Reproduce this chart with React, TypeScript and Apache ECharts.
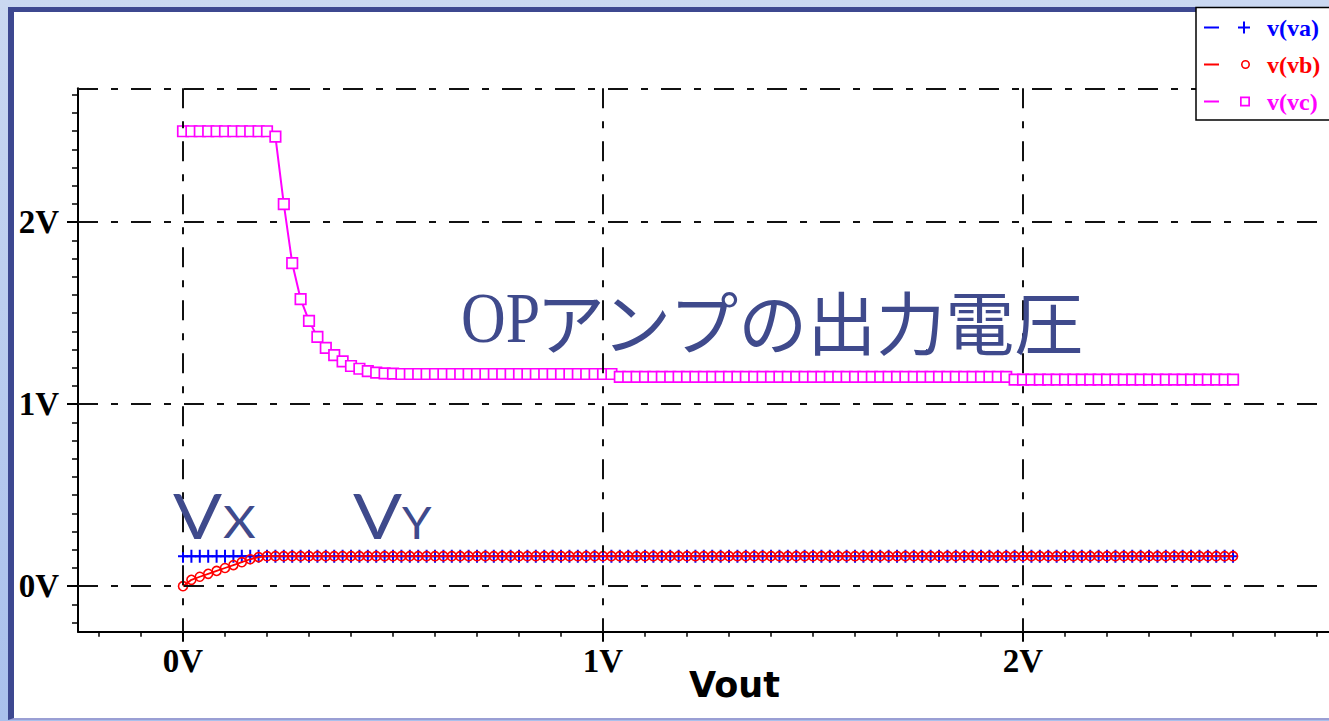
import React, { useEffect, useRef } from "react";
import * as echarts from "echarts";

// Sweep values of Vout (V)
const vout = [
  0, 0.02, 0.04, 0.06, 0.08, 0.1, 0.12, 0.14, 0.16, 0.18,
  0.2, 0.22, 0.24, 0.26, 0.28, 0.3, 0.32, 0.34, 0.36, 0.38,
  0.4, 0.42, 0.44, 0.46, 0.48, 0.5, 0.52, 0.54, 0.56, 0.58,
  0.6, 0.62, 0.64, 0.66, 0.68, 0.7, 0.72, 0.74, 0.76, 0.78,
  0.8, 0.82, 0.84, 0.86, 0.88, 0.9, 0.92, 0.94, 0.96, 0.98,
  1.0, 1.02, 1.04, 1.06, 1.08, 1.1, 1.12, 1.14, 1.16, 1.18,
  1.2, 1.22, 1.24, 1.26, 1.28, 1.3, 1.32, 1.34, 1.36, 1.38,
  1.4, 1.42, 1.44, 1.46, 1.48, 1.5, 1.52, 1.54, 1.56, 1.58,
  1.6, 1.62, 1.64, 1.66, 1.68, 1.7, 1.72, 1.74, 1.76, 1.78,
  1.8, 1.82, 1.84, 1.86, 1.88, 1.9, 1.92, 1.94, 1.96, 1.98,
  2.0, 2.02, 2.04, 2.06, 2.08, 2.1, 2.12, 2.14, 2.16, 2.18,
  2.2, 2.22, 2.24, 2.26, 2.28, 2.3, 2.32, 2.34, 2.36, 2.38,
  2.4, 2.42, 2.44, 2.46, 2.48, 2.5,
];

// v(va)
const va = [
  0.165, 0.165, 0.165, 0.165, 0.165, 0.165, 0.165, 0.165, 0.165, 0.165,
  0.165, 0.165, 0.165, 0.165, 0.165, 0.165, 0.165, 0.165, 0.165, 0.165,
  0.165, 0.165, 0.165, 0.165, 0.165, 0.165, 0.165, 0.165, 0.165, 0.165,
  0.165, 0.165, 0.165, 0.165, 0.165, 0.165, 0.165, 0.165, 0.165, 0.165,
  0.165, 0.165, 0.165, 0.165, 0.165, 0.165, 0.165, 0.165, 0.165, 0.165,
  0.165, 0.165, 0.165, 0.165, 0.165, 0.165, 0.165, 0.165, 0.165, 0.165,
  0.165, 0.165, 0.165, 0.165, 0.165, 0.165, 0.165, 0.165, 0.165, 0.165,
  0.165, 0.165, 0.165, 0.165, 0.165, 0.165, 0.165, 0.165, 0.165, 0.165,
  0.165, 0.165, 0.165, 0.165, 0.165, 0.165, 0.165, 0.165, 0.165, 0.165,
  0.165, 0.165, 0.165, 0.165, 0.165, 0.165, 0.165, 0.165, 0.165, 0.165,
  0.165, 0.165, 0.165, 0.165, 0.165, 0.165, 0.165, 0.165, 0.165, 0.165,
  0.165, 0.165, 0.165, 0.165, 0.165, 0.165, 0.165, 0.165, 0.165, 0.165,
  0.165, 0.165, 0.165, 0.165, 0.165, 0.165,
];

// v(vb)
const vb = [
  0, 0.035, 0.052, 0.068, 0.084, 0.1, 0.116, 0.132, 0.148, 0.16,
  0.165, 0.165, 0.165, 0.165, 0.165, 0.165, 0.165, 0.165, 0.165, 0.165,
  0.165, 0.165, 0.165, 0.165, 0.165, 0.165, 0.165, 0.165, 0.165, 0.165,
  0.165, 0.165, 0.165, 0.165, 0.165, 0.165, 0.165, 0.165, 0.165, 0.165,
  0.165, 0.165, 0.165, 0.165, 0.165, 0.165, 0.165, 0.165, 0.165, 0.165,
  0.165, 0.165, 0.165, 0.165, 0.165, 0.165, 0.165, 0.165, 0.165, 0.165,
  0.165, 0.165, 0.165, 0.165, 0.165, 0.165, 0.165, 0.165, 0.165, 0.165,
  0.165, 0.165, 0.165, 0.165, 0.165, 0.165, 0.165, 0.165, 0.165, 0.165,
  0.165, 0.165, 0.165, 0.165, 0.165, 0.165, 0.165, 0.165, 0.165, 0.165,
  0.165, 0.165, 0.165, 0.165, 0.165, 0.165, 0.165, 0.165, 0.165, 0.165,
  0.165, 0.165, 0.165, 0.165, 0.165, 0.165, 0.165, 0.165, 0.165, 0.165,
  0.165, 0.165, 0.165, 0.165, 0.165, 0.165, 0.165, 0.165, 0.165, 0.165,
  0.165, 0.165, 0.165, 0.165, 0.165, 0.165,
];

// v(vc)
const vc = [
  2.5, 2.5, 2.5, 2.5, 2.5, 2.5, 2.5, 2.5, 2.5, 2.5,
  2.5, 2.47, 2.1, 1.775, 1.578, 1.458, 1.37, 1.31, 1.27, 1.235,
  1.21, 1.195, 1.182, 1.174, 1.17, 1.168, 1.166, 1.166, 1.166, 1.166,
  1.166, 1.166, 1.166, 1.166, 1.166, 1.166, 1.166, 1.166, 1.166, 1.166,
  1.166, 1.166, 1.166, 1.166, 1.166, 1.166, 1.166, 1.166, 1.166, 1.166,
  1.166, 1.166, 1.15, 1.15, 1.15, 1.15, 1.15, 1.15, 1.15, 1.15,
  1.15, 1.15, 1.15, 1.15, 1.15, 1.15, 1.15, 1.15, 1.15, 1.15,
  1.15, 1.15, 1.15, 1.15, 1.15, 1.15, 1.15, 1.15, 1.15, 1.15,
  1.15, 1.15, 1.15, 1.15, 1.15, 1.15, 1.15, 1.15, 1.15, 1.15,
  1.15, 1.15, 1.15, 1.15, 1.15, 1.15, 1.15, 1.15, 1.15, 1.135,
  1.135, 1.135, 1.135, 1.135, 1.135, 1.135, 1.135, 1.135, 1.135, 1.135,
  1.135, 1.135, 1.135, 1.135, 1.135, 1.135, 1.135, 1.135, 1.135, 1.135,
  1.135, 1.135, 1.135, 1.135, 1.135, 1.135,
];

// Axis ticks / labels
const majorTicks = [0, 1, 2];
const minorTicks = [
  -0.2, -0.1, 0.1, 0.2, 0.3, 0.4, 0.5, 0.6, 0.7, 0.8, 0.9,
  1.1, 1.2, 1.3, 1.4, 1.5, 1.6, 1.7, 1.8, 1.9,
  2.1, 2.2, 2.3, 2.4, 2.5, 2.6, 2.7,
];
const gridLinesX = [0, 1, 2];
const gridLinesY = [0, 1, 2];

const X_MIN = -0.25;
const X_MAX = 2.728;
const Y_MIN = -0.25;
const Y_MAX = 2.736;

const seriesNames = ["v(va)", "v(vb)", "v(vc)"];
const seriesColors = ["#0000ff", "#ff0000", "#ff00ff"];

const TEXT_BLUE = "#3f4a8c";

const PLUS_SYMBOL = "path://M4,0H6V5.5H10V7.5H6V13H4V7.5H0V5.5H4Z";
const LEGEND_ICONS = [
  "path://M1,5H16V7H1Z M40,0H42V5H47V7H42V12H40V7H35V5H40Z M0,6H0.01V6.01H0Z",
  "path://M1,5H16V7H1Z M38,6A4.5,4.5 0 1 1 47,6A4.5,4.5 0 1 1 38,6Z M39.6,6A2.9,2.9 0 1 0 45.4,6A2.9,2.9 0 1 0 39.6,6Z M0,6H0.01V6.01H0Z",
  "path://M1,5H16V7H1Z M37,1H47V11H37Z M38.7,2.7V9.3H45.3V2.7Z M0,6H0.01V6.01H0Z",
];

export default function App() {
  const ref = useRef<HTMLDivElement | null>(null);

  useEffect(() => {
    if (!ref.current) return;
    const chart = echarts.init(ref.current, undefined, { renderer: "svg" });

    const axisFont = {
      color: "#000",
      fontFamily: "Liberation Serif",
      fontWeight: "bold" as const,
      fontSize: 33,
    };

    const option: any = {
      animation: false,
      backgroundColor: "transparent",
      grid: { left: 78, top: 88.3, width: 1250.8, height: 543.4, containLabel: false },
      xAxis: [
        {
          type: "value",
          min: X_MIN,
          max: X_MAX,
          position: "bottom",
          axisLine: { show: true, onZero: false, lineStyle: { color: "#000", width: 2 } },
          axisTick: { show: true, customValues: majorTicks, length: 10, lineStyle: { color: "#000", width: 2 } },
          axisLabel: { show: true, customValues: majorTicks, formatter: (v: number) => `${v}V`, margin: 13, ...axisFont },
          splitLine: { show: false },
        },
        {
          type: "value",
          min: X_MIN,
          max: X_MAX,
          position: "bottom",
          axisLine: { show: false, onZero: false },
          axisTick: { show: true, customValues: minorTicks, length: 5, lineStyle: { color: "#000", width: 1.5 } },
          axisLabel: { show: false },
          splitLine: { show: false },
        },
      ],
      yAxis: [
        {
          type: "value",
          min: Y_MIN,
          max: Y_MAX,
          position: "left",
          axisLine: { show: true, onZero: false, lineStyle: { color: "#000", width: 2 } },
          axisTick: { show: true, customValues: majorTicks, length: 11, lineStyle: { color: "#000", width: 2 } },
          axisLabel: { show: true, customValues: majorTicks, formatter: (v: number) => `${v}V`, margin: 19, ...axisFont },
          splitLine: { show: false },
        },
        {
          type: "value",
          min: Y_MIN,
          max: Y_MAX,
          position: "left",
          axisLine: { show: false, onZero: false },
          axisTick: { show: true, customValues: minorTicks, length: 6, lineStyle: { color: "#000", width: 1.5 } },
          axisLabel: { show: false },
          splitLine: { show: false },
        },
      ],
      legend: {
        show: true,
        orient: "vertical",
        left: 1196,
        top: 7.5,
        padding: [8, 80, 6.5, 7],
        itemGap: 13,
        itemWidth: 47,
        itemHeight: 13,
        backgroundColor: "#ffffff",
        borderColor: "#000000",
        borderWidth: 1.5,
        symbolKeepAspect: true,
        selectedMode: false,
        textStyle: {
          fontFamily: "Liberation Serif",
          fontWeight: "bold",
          fontSize: 24,
          padding: [0, 0, 0, 12],
        },
        data: seriesNames.map((name, i) => ({
          name,
          icon: LEGEND_ICONS[i],
          itemStyle: { color: seriesColors[i], borderWidth: 0, borderColor: "transparent" },
          textStyle: { color: seriesColors[i] },
        })),
        z: 6,
      },
      graphic: [
        {
          type: "rect",
          x: 1199,
          y: 10,
          shape: { width: 200, height: 109.5 },
          style: { fill: "#000" },
          z: 5,
          silent: true,
        },
        {
          type: "text",
          x: 461,
          y: 317.5,
          scaleX: 0.86,
          z: 20,
          style: {
            text: "OP",
            fontFamily: "Liberation Serif",
            fontSize: 72,
            fill: TEXT_BLUE,
            verticalAlign: "middle",
            align: "left",
          },
        },
        {
          type: "text",
          x: 536,
          y: 320,
          z: 20,
          style: {
            text: "アンプの出力電圧",
            fontFamily: "Noto Sans CJK JP",
            fontSize: 69,
            fill: TEXT_BLUE,
            verticalAlign: "middle",
            align: "left",
          },
        },
        {
          type: "text",
          x: 173,
          y: 514.5,
          scaleX: 1.17,
          z: 20,
          style: { text: "V", fontFamily: "Lato", fontSize: 62, fill: TEXT_BLUE, verticalAlign: "middle", align: "left" },
        },
        {
          type: "text",
          x: 223,
          y: 521,
          scaleX: 1.12,
          z: 20,
          style: { text: "X", fontFamily: "Lato", fontSize: 45, fill: TEXT_BLUE, verticalAlign: "middle", align: "left" },
        },
        {
          type: "text",
          x: 353,
          y: 514.5,
          scaleX: 1.17,
          z: 20,
          style: { text: "V", fontFamily: "Lato", fontSize: 62, fill: TEXT_BLUE, verticalAlign: "middle", align: "left" },
        },
        {
          type: "text",
          x: 402,
          y: 521,
          scaleX: 1.05,
          z: 20,
          style: { text: "Y", fontFamily: "Lato", fontSize: 45, fill: TEXT_BLUE, verticalAlign: "middle", align: "left" },
        },
        {
          type: "text",
          x: 734.5,
          y: 685,
          z: 20,
          style: {
            text: "Vout",
            fontFamily: "DejaVu Sans",
            fontWeight: "bold",
            fontSize: 35,
            fill: "#000",
            verticalAlign: "middle",
            align: "center",
          },
        },
      ],
      series: [
        {
          name: "grid",
          type: "line",
          data: [],
          z: 1,
          silent: true,
          markLine: {
            silent: true,
            symbol: ["none", "none"],
            label: { show: false },
            lineStyle: { color: "#111", width: 2, type: [20, 13, 7, 13] },
            emphasis: { disabled: true },
            data: [
              ...gridLinesX.map((v) => [{ coord: [v, Y_MAX] }, { coord: [v, Y_MIN] }]),
              ...gridLinesY.map((v) => [{ coord: [X_MIN, v] }, { coord: [X_MAX, v] }]),
              [{ coord: [X_MIN, Y_MAX] }, { coord: [X_MAX, Y_MAX] }],
            ],
          },
        },
        {
          name: seriesNames[0],
          type: "line",
          data: vout.map((x, i) => [x, va[i]]),
          symbol: PLUS_SYMBOL,
          symbolSize: [10, 13],
          itemStyle: { color: seriesColors[0] },
          lineStyle: { color: seriesColors[0], width: 2 },
          z: 2,
          emphasis: { disabled: true },
        },
        {
          name: seriesNames[1],
          type: "line",
          data: vout.map((x, i) => [x, vb[i]]),
          symbol: "circle",
          symbolSize: 9,
          itemStyle: { color: "rgba(255,255,255,0)", borderColor: seriesColors[1], borderWidth: 1.6 },
          lineStyle: { color: seriesColors[1], width: 1.8 },
          z: 3,
          emphasis: { disabled: true },
        },
        {
          name: seriesNames[2],
          type: "line",
          data: vout.map((x, i) => [x, vc[i]]),
          symbol: "rect",
          symbolSize: 10.5,
          itemStyle: { color: "#ffffff", borderColor: seriesColors[2], borderWidth: 1.7 },
          lineStyle: { color: seriesColors[2], width: 2 },
          z: 4,
          emphasis: { disabled: true },
        },
      ],
    };

    chart.setOption(option);
    return () => {
      chart.dispose();
    };
  }, []);

  return (
    <div
      style={{
        position: "fixed",
        left: 0,
        top: 0,
        width: 1329,
        height: 721,
        overflow: "hidden",
        background: "linear-gradient(to bottom, #cad8f1, #a9c0ec)",
      }}
    >
      <div
        style={{
          position: "absolute",
          left: 8,
          top: 7,
          width: 1321,
          height: 713,
          boxSizing: "border-box",
          background: "#ffffff",
          borderLeft: "6px solid #3d4890",
          borderTop: "5px solid #3d4890",
          borderBottom: "2px solid #9a9fd4",
        }}
      />
      <div ref={ref} style={{ position: "absolute", left: 0, top: 0, width: 1329, height: 721 }} />
    </div>
  );
}
